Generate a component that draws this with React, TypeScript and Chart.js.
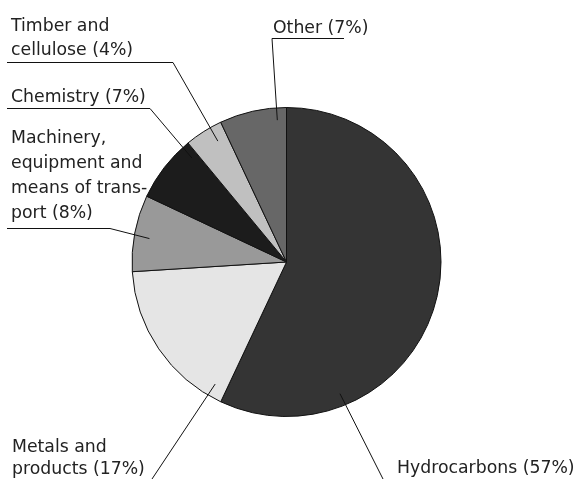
import React, { useEffect, useRef } from "react";
import { Chart, registerables } from "chart.js";

Chart.register(...registerables);

const categories = [
  "Hydrocarbons",
  "Metals and products",
  "Machinery, equipment and means of transport",
  "Chemistry",
  "Timber and cellulose",
  "Other",
];
const shares = [57, 17, 8, 7, 4, 7];
const sliceColors = ["#343434", "#e5e5e5", "#999999", "#1c1c1c", "#c0c0c0", "#676767"];

// label text lines (per category)
const labelLines = [
  ["Hydrocarbons (57%)"],
  ["Metals and", "products (17%)"],
  ["Machinery,", "equipment and", "means of trans-", "port (8%)"],
  ["Chemistry (7%)"],
  ["Timber and", "cellulose (4%)"],
  ["Other (7%)"],
];

// layout of annotations: text origin, line spacing, leader polyline start points,
// anchor angle (deg clockwise from top) and radius fraction inside the slice
const labelLayout = [
  { x: 397, y: 473, lh: 0, path: [[383, 479]], angle: 157.9, rf: 0.92 },
  { x: 12, y: 451.5, lh: 22, path: [[152, 479]], angle: 210.3, rf: 0.915 },
  { x: 11, y: 143, lh: 25, path: [[7, 228.5], [110, 228.5]], angle: 279.7, rf: 0.9 },
  { x: 11, y: 102, lh: 0, path: [[7, 108.5], [150, 108.5]], angle: 317.7, rf: 0.91 },
  { x: 11, y: 31, lh: 24, path: [[7, 62.5], [173, 62.5]], angle: 330.4, rf: 0.9 },
  { x: 273, y: 32.5, lh: 0, path: [[344, 38.5], [272, 38.5]], angle: 356.3, rf: 0.92 },
];

const labelPlugin = {
  id: "leaderLabels",
  afterDraw(chart: any) {
    const ctx = chart.ctx;
    const meta = chart.getDatasetMeta(0);
    const arc0 = meta.data[0];
    if (!arc0) return;
    const cx = arc0.x;
    const cy = arc0.y;
    const r = arc0.outerRadius;
    ctx.save();
    ctx.font = "17.3px 'DejaVu Sans'";
    ctx.fillStyle = "#222222";
    ctx.textBaseline = "alphabetic";
    ctx.textAlign = "left";
    labelLayout.forEach((lay, i) => {
      labelLines[i].forEach((t, j) => {
        ctx.fillText(t, lay.x, lay.y + j * lay.lh);
      });
      const a = (-90 + lay.angle) * Math.PI / 180;
      const ax = cx + Math.cos(a) * r * lay.rf;
      const ay = cy + Math.sin(a) * r * lay.rf;
      ctx.beginPath();
      ctx.strokeStyle = "#111111";
      ctx.lineWidth = 1;
      lay.path.forEach((p, k) => {
        if (k === 0) ctx.moveTo(p[0], p[1]);
        else ctx.lineTo(p[0], p[1]);
      });
      ctx.lineTo(ax, ay);
      ctx.stroke();
    });
    ctx.restore();
  },
};

export default function App() {
  const ref = useRef<HTMLCanvasElement>(null);
  useEffect(() => {
    document.body.style.margin = "0";
    const chart = new Chart(ref.current as HTMLCanvasElement, {
      type: "pie",
      data: {
        labels: categories,
        datasets: [
          {
            data: shares,
            backgroundColor: sliceColors,
            borderColor: "#111111",
            borderWidth: 1,
          },
        ],
      },
      options: {
        responsive: false,
        animation: false,
        layout: { padding: { left: 131, right: 140, top: 107, bottom: 62 } },
        plugins: { legend: { display: false }, tooltip: { enabled: false } },
      },
      plugins: [labelPlugin],
    });
    return () => chart.destroy();
  }, []);
  return (
    <div style={{ width: 582, height: 479 }}>
      <canvas ref={ref} width={582} height={479} style={{ display: "block" }} />
    </div>
  );
}
